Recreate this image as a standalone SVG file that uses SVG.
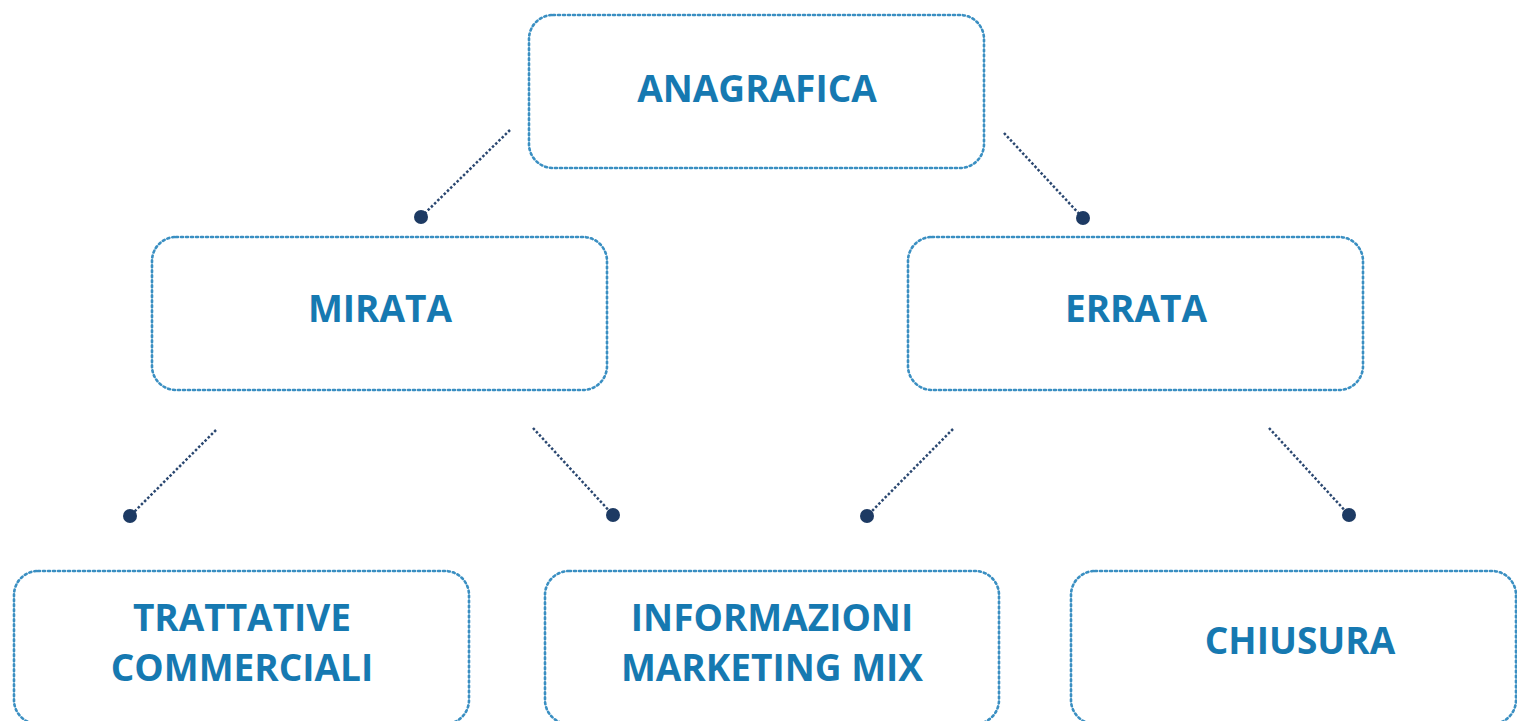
<svg xmlns="http://www.w3.org/2000/svg" width="1517" height="721" viewBox="0 0 1517 721">
<style>
.box{fill:#fff;stroke:#3a8fc2;stroke-width:2.6;stroke-dasharray:2 3;stroke-linecap:round}
.lbl{font-family:"Open Sans","Liberation Sans",sans-serif;font-weight:bold;font-size:37px;fill:#1679b1;text-anchor:middle}
.con{stroke:#2a4770;stroke-width:2.5;stroke-dasharray:2.5 2}
.dot{fill:#1d3a63}
</style>
<rect width="1517" height="721" fill="#fff"/>
<g id="connectors">
<line class="con" x1="510" y1="130" x2="421" y2="217"/><circle class="dot" cx="421" cy="217" r="7"/>
<line class="con" x1="1004" y1="133" x2="1083" y2="218"/><circle class="dot" cx="1083" cy="218" r="7"/>
<line class="con" x1="216" y1="430" x2="130" y2="516"/><circle class="dot" cx="130" cy="516" r="7"/>
<line class="con" x1="533" y1="428" x2="613" y2="515"/><circle class="dot" cx="613" cy="515" r="7"/>
<line class="con" x1="953" y1="429" x2="867" y2="516"/><circle class="dot" cx="867" cy="516" r="7"/>
<line class="con" x1="1269" y1="428" x2="1349" y2="515"/><circle class="dot" cx="1349" cy="515" r="7"/>
</g>
<g id="anagrafica"><rect class="box" x="529" y="15" width="455" height="153" rx="24"/><text class="lbl" x="757" y="102">ANAGRAFICA</text></g>
<g id="mirata"><rect class="box" x="152" y="237" width="455" height="153" rx="24"/><text class="lbl" x="380" y="322">MIRATA</text></g>
<g id="errata"><rect class="box" x="908" y="237" width="455" height="153" rx="24"/><text class="lbl" x="1136" y="322">ERRATA</text></g>
<g id="trattative"><rect class="box" x="14" y="571" width="455" height="153" rx="24"/><text class="lbl" x="242" y="631">TRATTATIVE</text><text class="lbl" x="242" y="681">COMMERCIALI</text></g>
<g id="informazioni"><rect class="box" x="545" y="571" width="454" height="153" rx="24"/><text class="lbl" x="772" y="631">INFORMAZIONI</text><text class="lbl" x="772" y="681">MARKETING MIX</text></g>
<g id="chiusura"><rect class="box" x="1071" y="571" width="445" height="153" rx="24"/><text class="lbl" x="1300" y="654">CHIUSURA</text></g>
</svg>
